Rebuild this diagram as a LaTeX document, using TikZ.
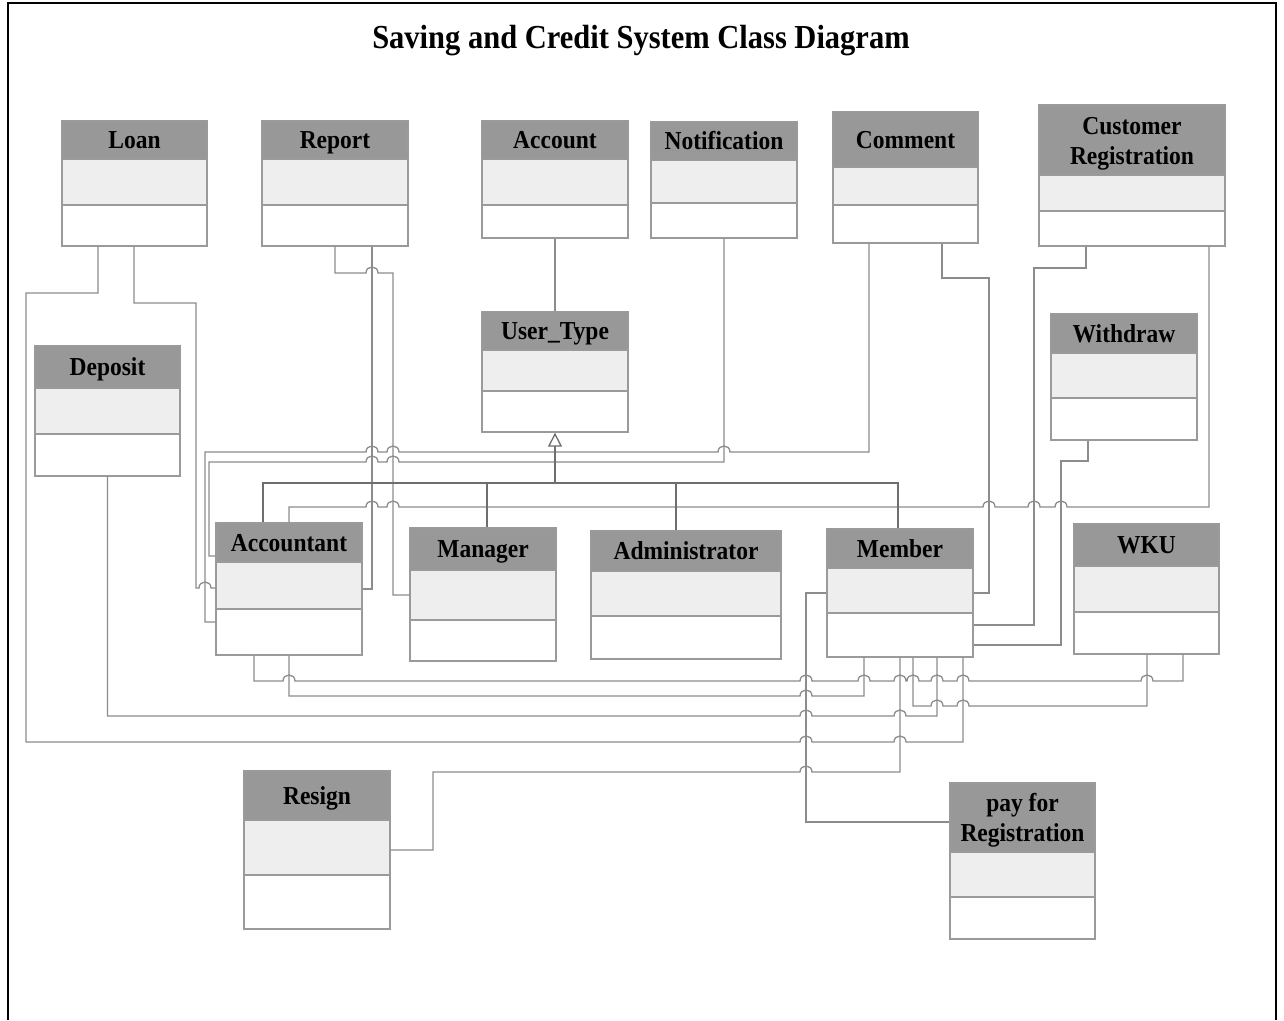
\documentclass[tikz,border=0pt]{standalone}
\usepackage{fontspec}
\setmainfont{Liberation Serif}
\usetikzlibrary{arrows.meta,fit}

\definecolor{connGray}{HTML}{8C8C8C}
\definecolor{boxGray}{HTML}{9A9A9A}
\definecolor{hdrGray}{HTML}{989898}
\definecolor{attrGray}{HTML}{EEEEEE}
\definecolor{genGray}{HTML}{6E6E6E}

\tikzset{
  conn/.style={draw=connGray, line width=1.3pt, line join=miter},
  gen/.style={draw=genGray, line width=2.2pt},
  boxline/.style={draw=boxGray, line width=1.3pt},
  clsname/.style={font=\fontsize{23.5}{30}\selectfont\bfseries, align=center, inner sep=0pt, text=black, anchor=base},
  % horizontal line jump over a vertical connector (travelling left to right)
  hp/.style 2 args={insert path={-- (#1-6,#2) .. controls (#1-6,#2-8) and (#1+6,#2-8) .. (#1+6,#2)}}
}

\newcommand\tall[1]{\scalebox{1}[1.1]{#1}}

% name, left x, right x, top y, header bottom, attribute bottom, bottom,
% label, offset of the last baseline from the header centre
\newcommand\umlclass[9]{%
  \fill[hdrGray] (#2,#4) rectangle (#3,#5);
  \fill[attrGray] (#2,#5) rectangle (#3,#6);
  \fill[white] (#2,#6) rectangle (#3,#7);
  \draw[boxline] (#2,#5) -- (#3,#5) (#2,#6) -- (#3,#6);
  \node[boxline, fit={(#2,#4) (#3,#7)}, inner sep=0pt] (#1) {};
  \node[clsname] (#1-name) at ({(#2+#3)/2},{(#4+#5)/2+#9}) {#8};
}

\begin{document}
\begin{tikzpicture}[x=1pt,y=-1pt]
\useasboundingbox (0,0) rectangle (1284,1020);
\fill[white] (0,0) rectangle (1284,1020);

% page frame
\draw[black, line width=1.6pt] (8,1020) -- (8,3) -- (1276,3) -- (1276,1020);

\node[font=\fontsize{30.5}{36}\selectfont\bfseries, inner sep=0pt, anchor=base] (title) at (641,48) {\tall{Saving and Credit System Class Diagram}};

% classes
\umlclass{loan}{62}{207}{121}{159}{205}{246}{\tall{Loan}}{8.5}
\umlclass{report}{262}{408}{121}{159}{205}{246}{\tall{Report}}{8.5}
\umlclass{account}{482}{628}{121}{159}{205}{238}{\tall{Account}}{8.5}
\umlclass{notification}{651}{797}{122}{160}{203}{238}{\tall{Notification}}{8.5}
\umlclass{comment}{833}{978}{112}{167}{205}{243}{\tall{Comment}}{8.5}
\umlclass{custreg}{1039}{1225}{105}{175}{211}{246}{\tall{Customer}\\\tall{Registration}}{24}
\umlclass{usertype}{482}{628}{312}{350}{391}{432}{\tall{User\_Type}}{8.5}
\umlclass{deposit}{35}{180}{346}{388}{434}{476}{\tall{Deposit}}{8.5}
\umlclass{withdraw}{1051}{1197}{314}{353}{398}{440}{\tall{Withdraw}}{8.5}
\umlclass{accountant}{216}{362}{523}{562}{609}{655}{\tall{Accountant}}{8.5}
\umlclass{manager}{410}{556}{528}{570}{620}{661}{\tall{Manager}}{8.5}
\umlclass{administrator}{591}{781}{531}{571}{616}{659}{\tall{Administrator}}{8.5}
\umlclass{member}{827}{973}{529}{568}{613}{657}{\tall{Member}}{8.5}
\umlclass{wku}{1074}{1219}{524}{566}{612}{654}{\tall{WKU}}{8.5}
\umlclass{resign}{244}{390}{771}{820}{875}{929}{\tall{Resign}}{8.5}
\umlclass{payreg}{950}{1095}{783}{852}{897}{939}{\tall{pay for}\\\tall{Registration}}{24}

% associations
\draw[conn] (account.south) -- (usertype.north);

\draw[conn] (98,0 |- loan.south) -- (98,293) -- (26,293) -- (26,742)
  [hp={806}{742}] [hp={900}{742}] -- (963,742) -- (963,0 |- member.south);
\draw[conn] (134,0 |- loan.south) -- (134,303) -- (196,303) -- (196,588)
  [hp={205}{588}] -- (accountant.west |- 0,588);

\draw[conn] (deposit.south) -- (107.5,716) [hp={806}{716}] [hp={900}{716}]
  -- (937,716) -- (937,0 |- member.south);

\draw[conn] (372,0 |- report.south) -- (372,589) -- (accountant.east |- 0,589);
\draw[conn] (335,0 |- report.south) -- (335,273) [hp={372}{273}] -- (393,273)
  -- (393,595) -- (manager.west |- 0,595);

\draw[conn] (accountant.west |- 0,622) -- (205,622) -- (205,452)
  [hp={372}{452}] [hp={393}{452}] [hp={724}{452}] -- (869,452) -- (869,0 |- comment.south);
\draw[conn] (accountant.west |- 0,556) -- (209,556) -- (209,462)
  [hp={372}{462}] [hp={393}{462}] -- (724,462) -- (724,0 |- notification.south);

\draw[conn] (289,0 |- accountant.north) -- (289,507)
  [hp={372}{507}] [hp={393}{507}] [hp={989}{507}] [hp={1034}{507}] [hp={1061}{507}]
  -- (1209,507) -- (1209,0 |- custreg.south);

\draw[conn] (942,0 |- comment.south) -- (942,278) -- (989,278) -- (989,593) -- (member.east |- 0,593);
\draw[conn] (1086,0 |- custreg.south) -- (1086,268) -- (1034,268) -- (1034,625) -- (member.east |- 0,625);
\draw[conn] (1088,0 |- withdraw.south) -- (1088,461) -- (1061,461) -- (1061,645) -- (member.east |- 0,645);

\draw[conn] (member.west |- 0,593) -- (806,593) -- (806,822) -- (payreg.west |- 0,822);

\draw[conn] (254,0 |- accountant.south) -- (254,681)
  [hp={289}{681}] [hp={806}{681}] [hp={864}{681}] [hp={900}{681}] [hp={913}{681}]
  [hp={937}{681}] [hp={963}{681}] [hp={1147}{681}] -- (1183,681) -- (1183,0 |- wku.south);
\draw[conn] (289,0 |- accountant.south) -- (289,696) [hp={806}{696}] -- (864,696) -- (864,0 |- member.south);
\draw[conn] (913,0 |- member.south) -- (913,706) [hp={937}{706}] [hp={963}{706}]
  -- (1147,706) -- (1147,0 |- wku.south);
\draw[conn] (resign.east |- 0,850) -- (433,850) -- (433,772) [hp={806}{772}]
  -- (900,772) -- (900,0 |- member.south);

% generalization to User_Type
\draw[gen] (263,0 |- accountant.north) -- (263,483) -- (898,483) -- (898,0 |- member.north);
\draw[gen] (487,483) -- (487,0 |- manager.north);
\draw[gen] (676,483) -- (676,0 |- administrator.north);
\draw[gen, line width=1.3pt, -{Triangle[open, length=14pt, width=14pt, fill=white]}] (555,484) -- (usertype.south);
\end{tikzpicture}
\end{document}
